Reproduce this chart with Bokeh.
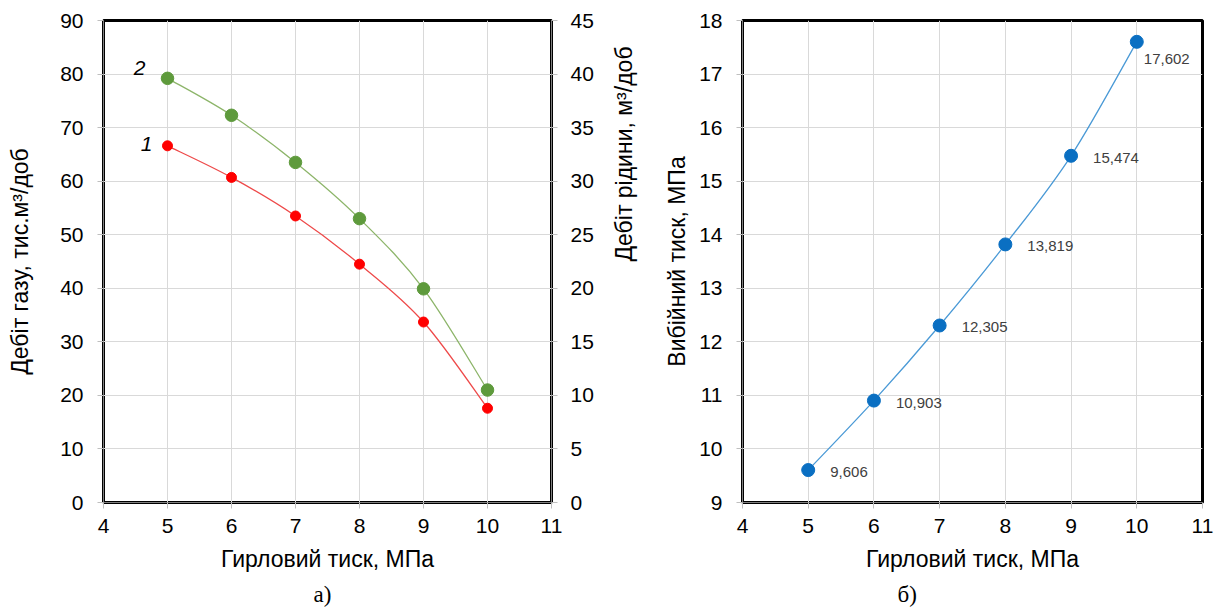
import math
from bokeh.plotting import figure
from bokeh.models import Range1d, LinearAxis, FixedTicker, Title, ColumnDataSource
from bokeh.layouts import row
from bokeh.embed import file_html
from bokeh.resources import INLINE
from bokeh.core.properties import value

# ---------------- data ----------------
pressure = [5, 6, 7, 8, 9, 10]                       # Гирловий тиск, МПа
gas_rate = [66.6, 60.7, 53.5, 44.5, 33.7, 17.6]      # curve 1, тис.м3/доб (left axis)
liquid_rate = [39.6, 36.15, 31.75, 26.5, 19.95, 10.5]  # curve 2, м3/доб (right axis)
bottom_pressure = [9.606, 10.903, 12.305, 13.819, 15.474, 17.602]  # Вибійний тиск, МПа
x_ticks = [4, 5, 6, 7, 8, 9, 10, 11]
gas_ticks = [0, 10, 20, 30, 40, 50, 60, 70, 80, 90]
liquid_ticks = [0, 5, 10, 15, 20, 25, 30, 35, 40, 45]
bh_ticks = [9, 10, 11, 12, 13, 14, 15, 16, 17, 18]

FONT = "Liberation Sans"


def smooth(xs, ys):
    """Bezier segments (Catmull-Rom style) through the data points."""
    n = len(xs)
    pts = list(zip(xs, ys))
    d = dict(x0=[], y0=[], x1=[], y1=[], cx0=[], cy0=[], cx1=[], cy1=[])
    for i in range(n - 1):
        p0 = pts[i - 1] if i > 0 else pts[i]
        p1 = pts[i]
        p2 = pts[i + 1]
        p3 = pts[i + 2] if i + 2 < n else pts[i + 1]
        d["x0"].append(p1[0]); d["y0"].append(p1[1])
        d["x1"].append(p2[0]); d["y1"].append(p2[1])
        d["cx0"].append(p1[0] + (p2[0] - p0[0]) / 6.0)
        d["cy0"].append(p1[1] + (p2[1] - p0[1]) / 6.0)
        d["cx1"].append(p2[0] - (p3[0] - p1[0]) / 6.0)
        d["cy1"].append(p2[1] - (p3[1] - p1[1]) / 6.0)
    return ColumnDataSource(d)


def style_axis(ax, ticks, label, standoff_lab, standoff_title):
    ax.ticker = FixedTicker(ticks=ticks)
    ax.axis_label = label
    ax.axis_label_text_font = FONT
    ax.axis_label_text_font_size = "23px"
    ax.axis_label_text_font_style = "normal"
    ax.axis_label_text_color = "#000000"
    ax.axis_label_standoff = standoff_title
    ax.major_label_text_font = FONT
    ax.major_label_text_font_size = "21px"
    ax.major_label_text_color = "#000000"
    ax.major_label_standoff = standoff_lab
    ax.major_tick_out = 6
    ax.major_tick_in = 0
    ax.major_tick_line_color = "#bfbfbf"
    ax.minor_tick_line_color = None
    ax.axis_line_color = "#7f7f7f"
    ax.axis_line_width = 1


def base_fig(width, yr, left, right):
    p = figure(width=width, height=612, x_range=Range1d(4, 11), y_range=yr,
               output_backend="svg", toolbar_location=None,
               min_border_left=left, min_border_right=right,
               min_border_top=20, min_border_bottom=110)
    p.background_fill_color = "white"
    p.border_fill_color = "white"
    p.outline_line_color = "black"
    p.outline_line_width = 3
    p.grid.grid_line_color = "#d9d9d9"
    p.grid.grid_line_width = 1
    p.xgrid.ticker = FixedTicker(ticks=x_ticks)
    return p


# ---------------- left chart (а) ----------------
p1 = base_fig(652, Range1d(0, 90), 103, 98)
p1.ygrid.ticker = FixedTicker(ticks=gas_ticks)
p1.extra_y_ranges = {"liq": Range1d(0, 45)}
style_axis(p1.xaxis[0], x_ticks, "Гирловий тиск, МПа", 10, 10)
style_axis(p1.yaxis[0], gas_ticks, "Дебіт газу, тис.м³/доб", 14, 24)
ax_r = LinearAxis(y_range_name="liq")
style_axis(ax_r, liquid_ticks, "Дебіт рідини, м³/доб", 13, 27)
ax_r.axis_label_orientation = math.pi / 2
p1.add_layout(ax_r, "right")

p1.bezier(x0="x0", y0="y0", x1="x1", y1="y1", cx0="cx0", cy0="cy0", cx1="cx1", cy1="cy1",
          source=smooth(pressure, gas_rate), line_color="#ee4a4a", line_width=1.3)
p1.scatter(pressure, gas_rate, size=10, fill_color="#ff0000", line_color="#ff0000")

p1.bezier(x0="x0", y0="y0", x1="x1", y1="y1", cx0="cx0", cy0="cy0", cx1="cx1", cy1="cy1",
          source=smooth(pressure, liquid_rate), line_color="#8db56a", line_width=1.3,
          y_range_name="liq")
p1.scatter(pressure, liquid_rate, size=12.5, fill_color="#5e9a3c", line_color="#5e9a3c",
           y_range_name="liq")

p1.text(x=[pressure[0]], y=[gas_rate[0]], text=["1"], x_offset=-21, y_offset=-2,
        text_font=value(FONT), text_font_style="italic", text_font_size="21px",
        text_align="center", text_baseline="middle", text_color="#000000")
p1.text(x=[pressure[0]], y=[liquid_rate[0]], text=["2"], x_offset=-28, y_offset=-10,
        text_font=value(FONT), text_font_style="italic", text_font_size="21px",
        text_align="center", text_baseline="middle", text_color="#000000",
        y_range_name="liq")

cap1 = Title(text="а)", align="left", offset=210, text_font="Liberation Serif",
             text_font_size="23px", text_font_style="normal", text_color="#000000")
p1.add_layout(cap1, "below")

# ---------------- right chart (б) ----------------
p2 = base_fig(573, Range1d(9, 18), 90, 23)
p2.min_border_bottom = 109
p2.ygrid.ticker = FixedTicker(ticks=bh_ticks)
style_axis(p2.xaxis[0], x_ticks, "Гирловий тиск, МПа", 10, 10)
style_axis(p2.yaxis[0], bh_ticks, "Вибійний тиск, МПа", 14, 6)

p2.bezier(x0="x0", y0="y0", x1="x1", y1="y1", cx0="cx0", cy0="cy0", cx1="cx1", cy1="cy1",
          source=smooth(pressure, bottom_pressure), line_color="#4b9ad6", line_width=1.3)
p2.scatter(pressure, bottom_pressure, size=13, fill_color="#0a6fc2", line_color="#0a6fc2")

labels = [f"{v:.3f}".replace(".", ",") for v in bottom_pressure]
p2.text(x=pressure[:-1], y=bottom_pressure[:-1], text=labels[:-1], x_offset=22, y_offset=2,
        text_font=value(FONT), text_font_size="15px", text_color="#404040",
        text_align="left", text_baseline="middle")
p2.text(x=pressure[-1:], y=bottom_pressure[-1:], text=labels[-1:], x_offset=7, y_offset=17,
        text_font=value(FONT), text_font_size="15px", text_color="#404040",
        text_align="left", text_baseline="middle")

cap2 = Title(text="б)", align="left", offset=155, text_font="Liberation Serif",
             text_font_size="23px", text_font_style="normal", text_color="#000000")
p2.add_layout(cap2, "below")

layout = row(p1, p2)
open("out.html", "w").write(file_html(layout, INLINE))
